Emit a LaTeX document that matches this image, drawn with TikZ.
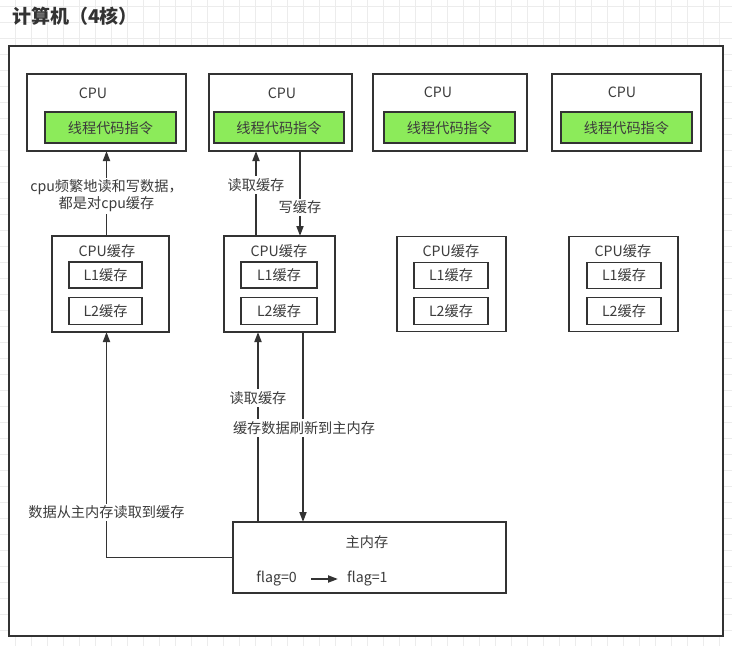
\documentclass[tikz,border=0pt]{standalone}
\usepackage{fontspec}
\setmainfont{Noto Sans CJK SC}
\usetikzlibrary{arrows.meta,calc}
\definecolor{ink}{RGB}{51,51,51}
\definecolor{txt}{RGB}{60,60,60}
\definecolor{lime}{RGB}{140,235,90}
\definecolor{gridc}{RGB}{236,236,236}
\begin{document}
\begin{tikzpicture}[x=1pt,y=-1pt,
  box/.style={draw=ink,line width=1.8pt,minimum width=#1,inner sep=0pt,outer sep=0pt},
  greenbox/.style={draw=ink,line width=1.8pt,fill=lime,minimum width=130pt,minimum height=31pt,inner sep=0pt,text=txt,font=\fontsize{14.2}{17}\selectfont},
  lbl/.style={text=txt,font=\fontsize{14.2}{17}\selectfont,inner sep=1pt},
  wlbl/.style={lbl,fill=white,inner sep=2pt,align=center},
  arr/.style={draw=ink,line width=1.8pt,-{Triangle[length=10pt,width=7pt]}}]
\useasboundingbox (0,0) rectangle (732,646);
% background grid
\foreach \gx in {15,31,...,731} \draw[gridc,line width=0.8pt] (\gx,0) -- (\gx,646);
\foreach \gy in {6,22,...,646} \draw[gridc,line width=0.8pt] (0,\gy) -- (732,\gy);
% title
\node[anchor=west,text=ink,font=\fontsize{19}{22}\selectfont\bfseries,inner sep=0pt] (title) at (12,16) {计算机（4核）};
% outer frame
\node[draw=ink,fill=white,line width=2.2pt,minimum width=714pt,minimum height=590pt,inner sep=0pt] (frame) at (366,341) {};
% CPUs
\node[box=159pt,minimum height=77pt] (cpu1) at (106.5,112.5) {};
\node[box=143pt,minimum height=77pt] (cpu2) at (280.5,112.5) {};
\node[box=154pt,minimum height=77pt] (cpu3) at (450,112.5) {};
\node[box=149pt,minimum height=77pt] (cpu4) at (626.5,112.5) {};
\node[lbl] (cpul1) at (93,93) {CPU};
\node[lbl] (cpul2) at (282,93) {CPU};
\node[lbl] (cpul3) at (438,92) {CPU};
\node[lbl] (cpul4) at (622,92) {CPU};
\node[greenbox,minimum width=131pt] (g1) at (110.5,127.75) {线程代码指令};
\node[greenbox] (g2) at (279,127.75) {线程代码指令};
\node[greenbox,minimum width=131pt] (g3) at (449.5,127.75) {线程代码指令};
\node[greenbox,minimum width=131pt] (g4) at (626.5,127.75) {线程代码指令};
% caches
\node[box=117pt,minimum height=96pt] (c1) at (110.5,284) {};
\node[box=111pt,minimum height=96pt] (c2) at (279.5,284) {};
\node[box=109pt,minimum height=95pt] (c3) at (451.5,284) {};
\node[box=109pt,minimum height=95pt] (c4) at (623.5,284) {};
\node[lbl] (cl1) at (107,251) {CPU缓存};
\node[lbl] (cl2) at (279,251) {CPU缓存};
\node[lbl] (cl3) at (451,251) {CPU缓存};
\node[lbl] (cl4) at (623,251) {CPU缓存};
\node[box=73pt,minimum height=26pt,lbl] (a1) at (105.5,275) {L1缓存};
\node[box=73pt,minimum height=27pt,lbl] (b1) at (105.5,311) {L2缓存};
\node[box=76pt,minimum height=26pt,lbl] (a2) at (279,275) {L1缓存};
\node[box=76pt,minimum height=27pt,lbl] (b2) at (279,311) {L2缓存};
\node[box=74pt,minimum height=26pt,lbl] (a3) at (451,275.5) {L1缓存};
\node[box=74pt,minimum height=27pt,lbl] (b3) at (451,311) {L2缓存};
\node[box=74pt,minimum height=26pt,lbl] (a4) at (624,275.5) {L1缓存};
\node[box=74pt,minimum height=27pt,lbl] (b4) at (624,311) {L2缓存};
% main memory
\node[box=273pt,minimum height=71pt] (mem) at (369.5,557.5) {};
\node[lbl] (meml) at (367,542) {主内存};
\node[lbl,anchor=east] (f0) at (298,579) {flag=0};
\node[lbl,anchor=west] (f1) at (346,579) {flag=1};
\draw[arr,line width=2pt,shorten <=13pt,shorten >=8pt] (f0) -- (f1);
% connectors
\draw[arr] (c1.north -| cpu1.south) -- node[wlbl,pos=0.47] (t1) {cpu频繁地读和写数据，\\都是对cpu缓存} (cpu1.south);
\draw[arr] ([xshift=-24.5pt]c2.north -| cpu2.south) -- node[wlbl,pos=0.6] (t2) {读取缓存} ([xshift=-24.5pt]cpu2.south);
\draw[arr] ([xshift=19.5pt]cpu2.south) -- node[wlbl,pos=0.66] (t3) {写缓存} ([xshift=19.5pt]cpu2.south |- c2.north);
\draw[arr] (mem.west) -| node[wlbl,pos=0.6] (t4) {数据从主内存读取到缓存} (cpu1.south |- c1.south);
\draw[arr] ([xshift=-111.5pt]mem.north) -- ([xshift=-111.5pt]mem.north |- c2.south);
\draw[arr] ([xshift=-66.5pt]mem.north |- c2.south) -- ([xshift=-66.5pt]mem.north);
\node[wlbl] (t5) at (258,398) {读取缓存};
\node[wlbl] (t6) at (304,428) {缓存数据刷新到主内存};
\end{tikzpicture}
\end{document}
